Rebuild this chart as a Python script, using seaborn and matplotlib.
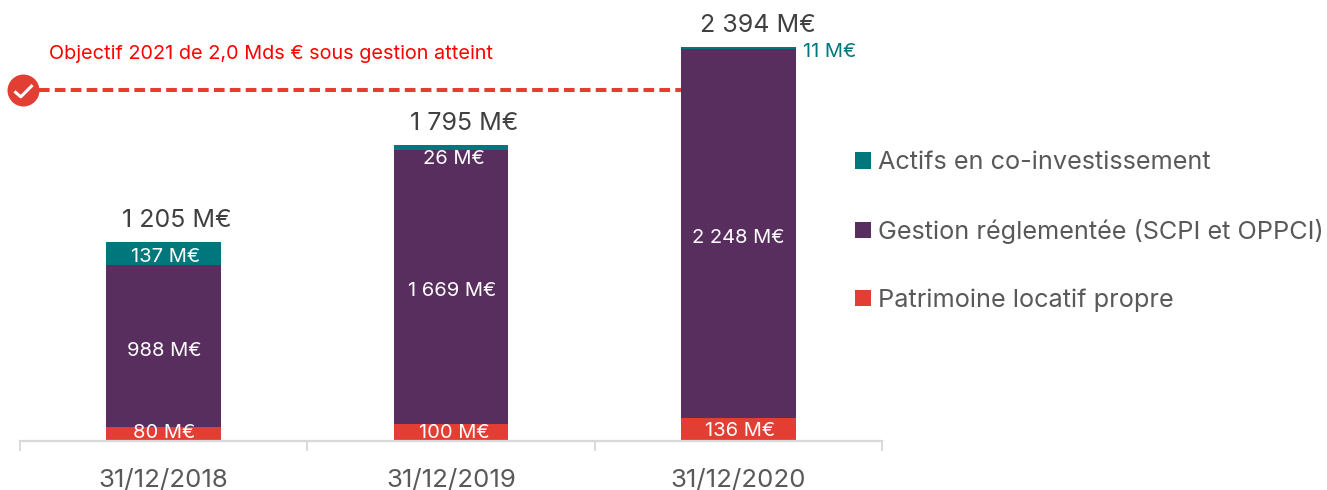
import matplotlib
matplotlib.use("Agg")
import matplotlib.pyplot as plt
from matplotlib.patches import Patch
import pandas as pd
import seaborn as sns

dates = ["31/12/2018", "31/12/2019", "31/12/2020"]
patrimoine = [80, 100, 136]
gestion = [988, 1669, 2248]
actifs = [137, 26, 11]
totals = ["1 205 M€", "1 795 M€", "2 394 M€"]
patrimoine_labels = ["80 M€", "100 M€", "136 M€"]
gestion_labels = ["988 M€", "1 669 M€", "2 248 M€"]
actifs_labels = ["137 M€", "26 M€", "11 M€"]
series_names = ["Actifs en co-investissement", "Gestion réglementée (SCPI et OPPCI)", "Patrimoine locatif propre"]
objective_text = "Objectif 2021 de 2,0 Mds € sous gestion atteint"
objective_value = 2135

TEAL, PURPLE, RED = "#00777C", "#582E5E", "#E33E34"
sns.set_theme(style="white")
plt.rcParams["font.family"] = ["Inter", "DejaVu Sans"]

W, H = 1327, 490
PX_X = 862 / 3
PX_Y = 0.1644
fig = plt.figure(figsize=(W / 100, H / 100), dpi=100)
ax = fig.add_axes([20 / W, (H - 440.5) / H, 862 / W, 440.5 / H])

df = pd.DataFrame({"date": dates, "p": patrimoine, "g": gestion, "a": actifs})
df["pg"] = df.p + df.g
df["pga"] = df.pg + df.a
for col, colour in [("pga", TEAL), ("pg", PURPLE), ("p", RED)]:
    sns.barplot(data=df, x="date", y=col, color=colour, width=0.4, saturation=1, linewidth=0, ax=ax, zorder=2)

ax.set_xlim(-0.5, 2.5)
ax.set_ylim(0, 440.5 / PX_Y)
ax.set_xlabel("")
ax.set_ylabel("")
ax.set_yticks([])
for s in ["top", "left", "right"]:
    ax.spines[s].set_visible(False)
ax.spines["bottom"].set_color("#D9D9D9")
ax.spines["bottom"].set_linewidth(1.6)
ax.set_xticks([-0.5, 0.5, 1.5, 2.5], minor=True)
ax.tick_params(axis="x", which="minor", length=7.5, width=1.4, color="#D9D9D9", bottom=True)
ax.tick_params(axis="x", which="major", length=0, pad=20.5, labelsize=18.6, labelcolor="#595959")

LABEL = 14.5
TOTAL = 18


def px(anchor, dy_px, s, dx_px=0, **kw):
    ax.annotate(s, xy=anchor, xytext=(dx_px * 0.72, dy_px * 0.72), textcoords="offset points",
                ha=kw.pop("ha", "center"), va="center", **kw)


for i in range(3):
    px((i, df.pga[i]), 21.5, totals[i], dx_px=[13, 13, 20][i], fontsize=TOTAL, color="#404040")
    px((i, 0), [8, 8, 10][i], patrimoine_labels[i], dx_px=[1, 3, 2][i], fontsize=LABEL, color="white", zorder=5)
    px((i, df.p[i] + df.g[i] / 2), -4.5, gestion_labels[i], dx_px=[1, 1, 0][i], fontsize=LABEL, color="white", zorder=5)
px((0, df.pg[0] + df.a[0] / 2), -3.5, actifs_labels[0], dx_px=2, fontsize=LABEL, color="white", zorder=5)
px((1, df.pg[1]), -9, actifs_labels[1], dx_px=3, fontsize=LABEL, color="white", zorder=5)
px((2.224, df.pga[2]), -5, actifs_labels[2], ha="left", fontsize=LABEL, color=TEAL, zorder=5)

# objective line with its check badge
x_marker = -0.5 + 3 / PX_X
ax.plot([x_marker, 1.8], [objective_value] * 2, color=RED, lw=2.9, dashes=(2.65, 1.3), zorder=1, clip_on=False)
ax.plot([x_marker], [objective_value], "o", color=RED, ms=23, mew=0, zorder=6, clip_on=False)
ax.plot([x_marker], [objective_value], marker=[(-1, -0.1), (-0.3, -0.7), (1, 0.6)], color="white", ms=13, mew=2.2,
        mfc="none", ls="none", zorder=7, clip_on=False)
ax.text(-0.5 + 29 / PX_X, objective_value + 219, objective_text, ha="left", va="center", color="#FF0000", fontsize=14.3)

handles = [Patch(facecolor=c, edgecolor="none") for c in [TEAL, PURPLE, RED]]
fig.legend(handles, series_names, loc="center left", bbox_to_anchor=(855 / W, (H - 231.5) / H), frameon=False,
           fontsize=18.2, handlelength=0.63, handleheight=0.63, handletextpad=0.28, labelspacing=1.76,
           labelcolor="#595959", borderpad=0, borderaxespad=0)

fig.savefig("out.png", dpi=100)
